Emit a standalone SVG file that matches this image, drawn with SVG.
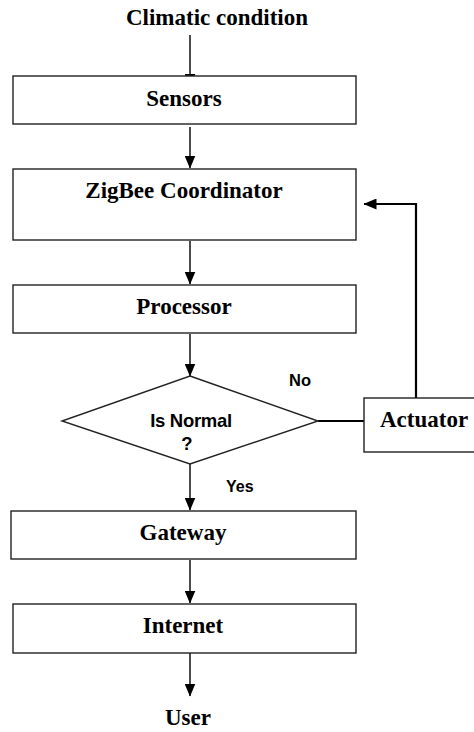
<svg xmlns="http://www.w3.org/2000/svg" width="474" height="732" viewBox="0 0 474 732">
<style>
.box{fill:#fff;stroke:#222;stroke-width:1.4}
.t{font-family:"Liberation Serif","Times New Roman",serif;font-weight:bold;font-size:23px;fill:#000}
.c{font-family:"Liberation Sans",Arial,sans-serif;font-weight:bold;fill:#000}
.ln{fill:none;stroke:#000;stroke-width:1.4}
.thick{fill:none;stroke:#000;stroke-width:2.2}
</style>
<defs>
<marker id="ah2" markerWidth="13" markerHeight="11" refX="12.5" refY="5.5" orient="auto" markerUnits="userSpaceOnUse" viewBox="0 0 13 11">
<path d="M0,0 L13,5.5 L0,11 Z" fill="#000"/>
</marker>
</defs>
<g id="connectors">
<line class="ln" x1="190" y1="35" x2="190" y2="86" marker-end="url(#ah2)"/>
<line class="ln" x1="190" y1="127" x2="190" y2="168" marker-end="url(#ah2)"/>
<line class="ln" x1="190" y1="241" x2="190" y2="284" marker-end="url(#ah2)"/>
<line class="ln" x1="190" y1="334" x2="190" y2="376" marker-end="url(#ah2)"/>
<line class="ln" x1="190" y1="464" x2="190" y2="510" marker-end="url(#ah2)"/>
<line class="ln" x1="190" y1="560" x2="190" y2="603" marker-end="url(#ah2)"/>
<line class="ln" x1="190" y1="653" x2="190" y2="696" marker-end="url(#ah2)"/>
<line class="thick" x1="318" y1="421" x2="364" y2="421"/>
<polyline class="thick" points="416,398 416,204 364,204" marker-end="url(#ah2)"/>
</g>
<g id="climatic"><text class="t" x="217" y="25" text-anchor="middle">Climatic condition</text></g>
<g id="sensors"><rect class="box" x="13" y="76" width="343" height="48"/><text class="t" x="184" y="106" text-anchor="middle">Sensors</text></g>
<g id="zigbee"><rect class="box" x="13" y="169" width="343" height="71"/><text class="t" x="184" y="198" text-anchor="middle">ZigBee Coordinator</text></g>
<g id="processor"><rect class="box" x="13" y="285" width="343" height="48"/><text class="t" x="184" y="314" text-anchor="middle">Processor</text></g>
<g id="decision"><polygon class="box" points="190,376 318,421 190,464 62,421"/>
<text class="c" x="191" y="427" font-size="18.5" text-anchor="middle" letter-spacing="-0.3">Is Normal</text>
<text class="c" x="187" y="450" font-size="18.5" text-anchor="middle">?</text></g>
<g id="actuator"><rect class="box" x="364" y="398" width="114" height="54"/><text class="t" x="380" y="427">Actuator</text></g>
<g id="gateway"><rect class="box" x="11" y="511" width="345" height="48"/><text class="t" x="183" y="540" text-anchor="middle">Gateway</text></g>
<g id="internet"><rect class="box" x="13" y="604" width="343" height="49"/><text class="t" x="183" y="633" text-anchor="middle">Internet</text></g>
<g id="user"><text class="t" x="188" y="725" text-anchor="middle">User</text></g>
<g id="labels">
<text class="c" x="289" y="386" font-size="16.5">No</text>
<text class="c" x="226" y="492" font-size="16">Yes</text>
</g>
</svg>
